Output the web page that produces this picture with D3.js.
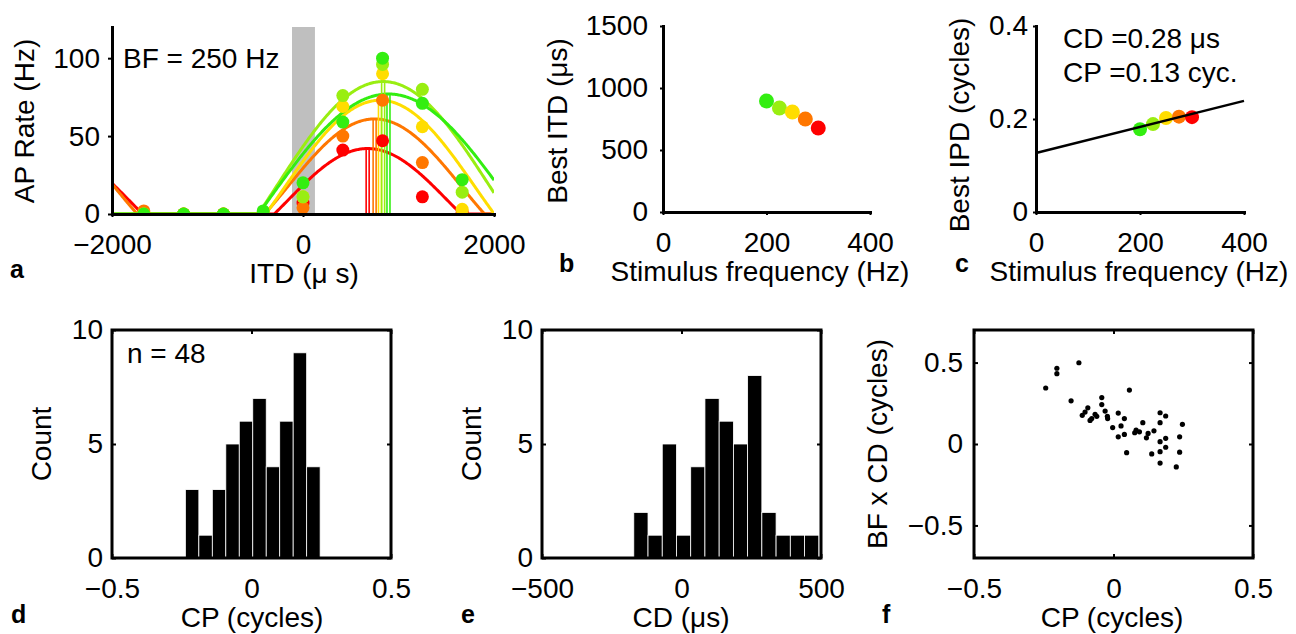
<!DOCTYPE html>
<html><head><meta charset="utf-8">
<script src="https://cdn.jsdelivr.net/npm/d3@7"></script>
<style>
body{margin:0;background:#fff}
text{font-family:"Liberation Sans",Arial,Helvetica,sans-serif;fill:#000}
</style></head><body>
<svg id="chart" width="1296" height="634"></svg>
<script>
// ---------------- data ----------------
const freqs = [200, 225, 250, 275, 300];
const freqColors = ["#33ee11", "#99ee11", "#ffdd00", "#ff7700", "#ff0000"];
const itdValues = [-1667, -1250, -833, -417, 0, 417, 833, 1250, 1667];
const rate200 = [0, 0, 0, 2, 20, 59, 100, 71, 22];
const rate225 = [0, 0, 0, 0, 11, 76, 96, 80, 14];
const rate250 = [0, 0, 0, 0, 11, 69, 90, 56, 3];
const rate275 = [2, 0, 0, 0, 4, 50, 73, 33, 0];
const rate300 = [0, 0, 0, 0, 7, 41, 47, 11, 1];
const fitPeak = [77, 85, 73, 61, 42];
const fitOffset = [9.5, 18.3, 17, 17.6, 8.9];
const bestITD = [895, 839, 806, 750, 677];
const bestIPD = [0.178, 0.189, 0.202, 0.205, 0.204];
const fitCP = 0.127;          // cycles
const fitCD = 0.00028;        // cycles per Hz
const grayBand = [-115, 125];
const bfLabel = "BF = 250 Hz";

const cpBinStart = -0.237, cpBinWidth = 0.0483;
const cpCounts = [3, 1, 3, 5, 6, 7, 4, 6, 9, 4];
const cdBinStart = -171, cdBinWidth = 51;
const cdCounts = [2, 1, 5, 1, 4, 7, 6, 5, 8, 2, 1, 1, 1];

const scatterCP = [-0.124, -0.203, -0.203, -0.243, 0.057, -0.152, -0.042, -0.042, -0.092, -0.102,
  -0.112, -0.066, -0.060, -0.078, -0.084, -0.030, -0.022, -0.021, 0.017, 0.039,
  -0.003, 0.027, 0.039, 0.017, 0.047, 0.105, 0.081, 0.093, 0.076, 0.124,
  0.118, 0.145, 0.137, 0.167, 0.187, 0.167, 0.187, 0.167, 0.187, 0.167,
  0.167, 0.247, 0.237, 0.237, 0.225];
const scatterBFCD = [0.499, 0.465, 0.432, 0.344, 0.331, 0.265, 0.285, 0.242, 0.222, 0.196,
  0.176, 0.182, 0.170, 0.156, 0.145, 0.202, 0.170, 0.156, 0.190, 0.156,
  0.101, 0.111, 0.059, 0.044, -0.053, 0.131, 0.085, 0.075, 0.069, 0.065,
  0.038, 0.081, -0.061, 0.192, 0.172, 0.131, 0.035, 0.014, -0.020, -0.047,
  -0.117, 0.121, 0.044, -0.050, -0.141];

const rates = [rate200, rate225, rate250, rate275, rate300];

// ---------------- helpers ----------------
const svg = d3.select("#chart");
const FS = 28;
const fmt = d3.format("");

function styleAxis(g, width) {
  g.select(".domain").attr("stroke", "#000").attr("stroke-width", width).attr("stroke-linecap", "square");
  g.selectAll(".tick line").attr("stroke", "#000").attr("stroke-width", 2);
  g.selectAll(".tick text").attr("font-size", FS).attr("font-family", "Liberation Sans, Arial, sans-serif");
}
function ylabel(txt, x, y) {
  svg.append("text").attr("transform", `translate(${x},${y}) rotate(-90)`)
    .attr("text-anchor", "middle").attr("font-size", FS).text(txt);
}
function xlabel(txt, x, y) {
  svg.append("text").attr("x", x).attr("y", y).attr("text-anchor", "middle").attr("font-size", FS).text(txt);
}
function letter(txt, x, y) {
  svg.append("text").attr("x", x).attr("y", y).attr("font-size", 25).attr("font-weight", "bold").text(txt);
}

// ---------------- panel a ----------------
{
  const x = d3.scaleLinear().domain([-2000, 2000]).range([112, 494]);
  const y = d3.scaleLinear().domain([0, 120]).range([214, 27]);
  svg.append("clipPath").attr("id", "clipA").append("rect")
    .attr("x", 112).attr("y", 20).attr("width", 382).attr("height", 195);
  const g = svg.append("g").attr("clip-path", "url(#clipA)");
  g.append("rect").attr("x", x(grayBand[0])).attr("y", y(120))
    .attr("width", x(grayBand[1]) - x(grayBand[0])).attr("height", y(0) - y(120)).attr("fill", "#bfbfbf");
  const samples = d3.range(-2000, 2001, 10);
  const order = [4, 3, 2, 1, 0];
  order.forEach(i => {
    const A = fitPeak[i] - fitOffset[i], B = fitOffset[i];
    const fit = t => Math.max(0, A * Math.cos(2 * Math.PI * freqs[i] * (t - bestITD[i]) / 1e6) + B);
    g.append("path").datum(samples)
      .attr("d", d3.line().x(t => x(t)).y(t => y(fit(t))))
      .attr("fill", "none").attr("stroke", freqColors[i]).attr("stroke-width", 3);
  });
  order.forEach(i => {
    g.append("rect").attr("x", x(bestITD[i]) - 1.5).attr("y", y(fitPeak[i]))
      .attr("width", 3).attr("height", y(0) - y(fitPeak[i]))
      .attr("fill", "none").attr("stroke", freqColors[i]).attr("stroke-width", 1.6);
  });
  order.forEach(i => {
    g.selectAll(null).data(itdValues.map((t, k) => [t, rates[i][k]])).enter().append("circle")
      .attr("cx", d => x(d[0])).attr("cy", d => y(d[1])).attr("r", 6.5).attr("fill", freqColors[i]);
  });
  const ya = svg.append("g").attr("transform", "translate(112,0)")
    .call(d3.axisLeft(y).tickValues([0, 50, 100]).tickFormat(fmt).tickSizeInner(4).tickSizeOuter(0).tickPadding(8));
  styleAxis(ya, 3);
  const xa = svg.append("g").attr("transform", "translate(0,214)")
    .call(d3.axisBottom(x).tickValues([-2000, 0, 2000]).tickFormat(fmt).tickSizeInner(3).tickSizeOuter(0).tickPadding(17));
  styleAxis(xa, 3);
  svg.append("text").attr("x", 123).attr("y", 68).attr("font-size", FS).text(bfLabel);
  ylabel("AP Rate (Hz)", 34, 121);
  xlabel("ITD (\u03bc s)", 304, 283);
  letter("a", 10, 278);
}

// ---------------- panel b ----------------
{
  const x = d3.scaleLinear().domain([0, 400]).range([663, 870]);
  const y = d3.scaleLinear().domain([0, 1500]).range([212, 26]);
  const ya = svg.append("g").attr("transform", "translate(663,0)")
    .call(d3.axisLeft(y).tickValues([0, 500, 1000, 1500]).tickFormat(fmt).tickSizeInner(3).tickSizeOuter(0).tickPadding(12));
  styleAxis(ya, 3);
  const xa = svg.append("g").attr("transform", "translate(0,212)")
    .call(d3.axisBottom(x).tickValues([0, 200, 400]).tickFormat(fmt).tickSizeInner(3).tickSizeOuter(0).tickPadding(17));
  styleAxis(xa, 3);
  [0, 1, 2, 3, 4].forEach(i => {
    svg.append("circle").attr("cx", x(freqs[i])).attr("cy", y(bestITD[i])).attr("r", 7.5).attr("fill", freqColors[i]);
  });
  ylabel("Best ITD (\u03bcs)", 567, 121);
  xlabel("Stimulus frequency (Hz)", 760, 281);
  letter("b", 559, 272);
}

// ---------------- panel c ----------------
{
  const x = d3.scaleLinear().domain([0, 400]).range([1036, 1244]);
  const y = d3.scaleLinear().domain([0, 0.4]).range([212, 26]);
  const ya = svg.append("g").attr("transform", "translate(1036,0)")
    .call(d3.axisLeft(y).tickValues([0, 0.2, 0.4]).tickFormat(fmt).tickSizeInner(3).tickSizeOuter(0).tickPadding(5));
  styleAxis(ya, 3);
  const xa = svg.append("g").attr("transform", "translate(0,212)")
    .call(d3.axisBottom(x).tickValues([0, 200, 400]).tickFormat(fmt).tickSizeInner(3).tickSizeOuter(0).tickPadding(17));
  styleAxis(xa, 3);
  [0, 1, 2, 3, 4].forEach(i => {
    svg.append("circle").attr("cx", x(freqs[i])).attr("cy", y(bestIPD[i])).attr("r", 7).attr("fill", freqColors[i]);
  });
  const xs = x.domain();
  svg.append("line").attr("x1", x(xs[0])).attr("y1", y(fitCP + fitCD * xs[0]))
    .attr("x2", x(xs[1])).attr("y2", y(fitCP + fitCD * xs[1]))
    .attr("stroke", "#000").attr("stroke-width", 2.5);
  svg.append("text").attr("x", 1063).attr("y", 48).attr("font-size", FS).text("CD =0.28 \u03bcs");
  svg.append("text").attr("x", 1063).attr("y", 82).attr("font-size", FS).text("CP =0.13 cyc.");
  ylabel("Best IPD (cycles)", 969, 125);
  xlabel("Stimulus frequency (Hz)", 1139, 281);
  letter("c", 955, 272);
}

// ---------------- boxed panels ----------------
function boxPanel(x0, x1, xDom, xTicks, yDom, yTicks, yPad) {
  const x = d3.scaleLinear().domain(xDom).range([x0, x1]);
  const y = d3.scaleLinear().domain(yDom).range([558, 330]);
  const ya = svg.append("g").attr("transform", `translate(${x0},0)`)
    .call(d3.axisLeft(y).tickValues(yTicks).tickFormat(fmt).tickSizeInner(-4).tickSizeOuter(0).tickPadding(yPad));
  styleAxis(ya, 0); ya.select(".domain").remove();
  const yr = svg.append("g").attr("transform", `translate(${x1},0)`)
    .call(d3.axisRight(y).tickValues(yTicks).tickFormat("").tickSizeInner(-4).tickSizeOuter(0));
  styleAxis(yr, 0); yr.select(".domain").remove();
  const xa = svg.append("g").attr("transform", "translate(0,558)")
    .call(d3.axisBottom(x).tickValues(xTicks).tickFormat(fmt).tickSizeInner(-4).tickSizeOuter(0).tickPadding(20));
  styleAxis(xa, 0); xa.select(".domain").remove();
  const xt = svg.append("g").attr("transform", "translate(0,330)")
    .call(d3.axisTop(x).tickValues(xTicks).tickFormat("").tickSizeInner(-4).tickSizeOuter(0));
  styleAxis(xt, 0); xt.select(".domain").remove();
  return {x, y};
}
function drawBox(x0, x1) {
  svg.append("rect").attr("x", x0).attr("y", 330).attr("width", x1 - x0).attr("height", 228)
    .attr("fill", "none").attr("stroke", "#000").attr("stroke-width", 3);
}

// ---------------- panel d ----------------
{
  const {x, y} = boxPanel(112, 391, [-0.5, 0.5], [-0.5, 0, 0.5], [0, 10], [0, 5, 10], 9);
  svg.selectAll(null).data(cpCounts).enter().append("rect")
    .attr("x", (d, i) => x(cpBinStart + i * cpBinWidth))
    .attr("width", x(cpBinWidth) - x(0))
    .attr("y", d => y(d)).attr("height", d => y(0) - y(d))
    .attr("fill", "#000").attr("stroke", "#fff").attr("stroke-width", 0.8);
  drawBox(112, 391);
  svg.append("text").attr("x", 127).attr("y", 363).attr("font-size", FS).text("n = 48");
  ylabel("Count", 51, 444);
  xlabel("CP (cycles)", 252, 627);
  letter("d", 11, 623);
}

// ---------------- panel e ----------------
{
  const {x, y} = boxPanel(542, 821, [-500, 500], [-500, 0, 500], [0, 10], [0, 5, 10], 9);
  svg.selectAll(null).data(cdCounts).enter().append("rect")
    .attr("x", (d, i) => x(cdBinStart + i * cdBinWidth))
    .attr("width", x(cdBinWidth) - x(0))
    .attr("y", d => y(d)).attr("height", d => y(0) - y(d))
    .attr("fill", "#000").attr("stroke", "#fff").attr("stroke-width", 0.8);
  drawBox(542, 821);
  ylabel("Count", 481, 444);
  xlabel("CD (\u03bcs)", 681, 627);
  letter("e", 461, 623);
}

// ---------------- panel f ----------------
{
  const {x, y} = boxPanel(974, 1253, [-0.5, 0.5], [-0.5, 0, 0.5], [-0.7, 0.7], [-0.5, 0, 0.5], 11);
  svg.selectAll(null).data(scatterCP.map((c, i) => [c, scatterBFCD[i]])).enter().append("circle")
    .attr("cx", d => x(d[0])).attr("cy", d => y(d[1])).attr("r", 2.6).attr("fill", "#000");
  drawBox(974, 1253);
  ylabel("BF x CD (cycles)", 887, 444);
  xlabel("CP (cycles)", 1112, 627);
  letter("f", 882, 623);
}
</script>
</body></html>
